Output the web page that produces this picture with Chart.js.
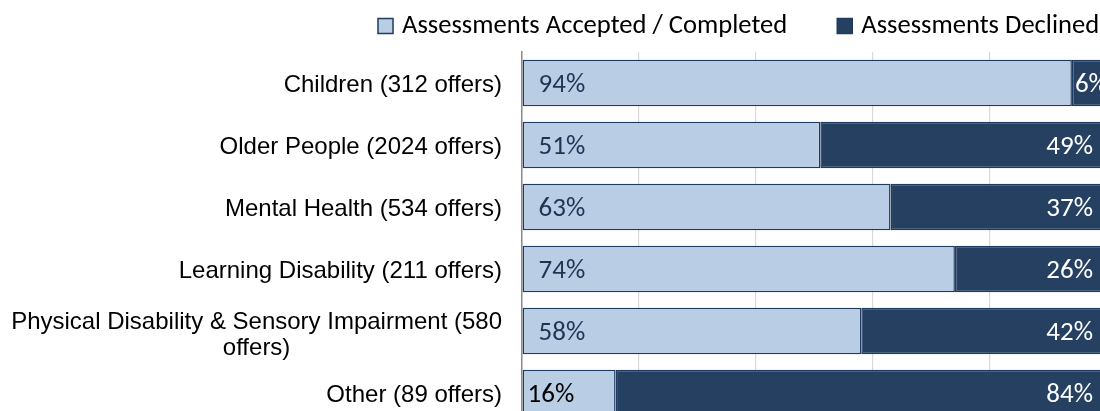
<!DOCTYPE html>
<html>
<head>
<meta charset="utf-8">
<title>Assessments offered by client group</title>
<script src="https://cdn.jsdelivr.net/npm/chart.js@4"></script>
<style>
  html, body { margin: 0; padding: 0; background: #fff; overflow: hidden; }
  #wrap { position: absolute; left: 0; top: 0; width: 1110px; height: 426px; }
</style>
</head>
<body>
<div id="wrap"><canvas id="chart" width="1110" height="426"></canvas></div>
<script>
// categories (client group with number of offers)
const categories = [
  "Children (312 offers)",
  "Older People (2024 offers)",
  "Mental Health (534 offers)",
  "Learning Disability (211 offers)",
  ["Physical Disability & Sensory Impairment (580", "offers)"],
  "Other (89 offers)"
];
const seriesNames = ["Assessments Accepted / Completed", "Assessments Declined"];
const accepted = [94, 51, 63, 74, 58, 16];
const declined = [6, 49, 37, 26, 42, 84];
const xTicks = [0, 20, 40, 60, 80, 100];

const calibri = "Carlito, Calibri, 'Open Sans', sans-serif";
const arial = "'Liberation Sans', Arial, sans-serif";
const edge = "#1F3B60";

// legend drawn by hand so the box/text gaps match Excel
const legendRow = {
  id: "legendRow",
  afterDraw(chart) {
    const ctx = chart.ctx;
    ctx.save();
    ctx.font = "26.6px " + calibri;
    ctx.textBaseline = "middle";
    ctx.textAlign = "left";
    let x = 378;
    const y = 26;
    chart.data.datasets.forEach(ds => {
      ctx.fillStyle = ds.backgroundColor;
      ctx.fillRect(x, y - 7.5, 15, 15);
      ctx.strokeStyle = edge;
      ctx.lineWidth = 1.5;
      ctx.strokeRect(x, y - 7.5, 15, 15);
      ctx.fillStyle = "#000";
      ctx.fillText(ds.label, x + 24, y);
      x += 24 + ctx.measureText(ds.label).width + 50;
    });
    ctx.restore();
  }
};

// y labels: right aligned block, lines centred inside it (like Excel)
const yLabels = {
  id: "yLabels",
  afterDraw(chart) {
    const ctx = chart.ctx;
    const y = chart.scales.y;
    ctx.save();
    ctx.font = "24px " + arial;
    ctx.fillStyle = "#000";
    ctx.textBaseline = "middle";
    ctx.textAlign = "center";
    const right = y.right - 20;
    const lh = 26.5;
    categories.forEach((lab, i) => {
      const lines = Array.isArray(lab) ? lab : [lab];
      const w = Math.max(...lines.map(l => ctx.measureText(l).width));
      const cy = y.getPixelForValue(i) + 2 - (lines.length - 1) * 11;
      lines.forEach((l, k) => ctx.fillText(l, right - w / 2, cy + k * lh));
    });
    ctx.restore();
  }
};

// percentage labels inside the bars
const barLabels = {
  id: "barLabels",
  afterDatasetsDraw(chart) {
    const ctx = chart.ctx;
    ctx.save();
    ctx.font = "27px " + calibri;
    ctx.textBaseline = "middle";
    ctx.textAlign = "left";
    chart.data.datasets.forEach((ds, di) => {
      chart.getDatasetMeta(di).data.forEach((bar, i) => {
        const txt = ds.data[i] + "%";
        const w = ctx.measureText(txt).width;
        const left = Math.min(bar.x, bar.base);
        const right = Math.max(bar.x, bar.base);
        let x;
        if (di === 0) {
          ctx.fillStyle = ds.data[i] < 20 ? "#000" : "#1F3454";
          x = left + (ds.data[i] < 20 ? 5 : 16);
        } else {
          ctx.fillStyle = "#fff";
          x = Math.max(left + 3, right - 14 - w);
        }
        ctx.fillText(txt, x, bar.y + 2);
      });
    });
    ctx.restore();
  }
};

new Chart(document.getElementById("chart"), {
  type: "bar",
  data: {
    labels: categories,
    datasets: [
      {
        label: seriesNames[0],
        data: accepted,
        backgroundColor: "#B9CDE5",
        borderColor: edge,
        borderWidth: 1.5,
        borderSkipped: false
      },
      {
        label: seriesNames[1],
        data: declined,
        backgroundColor: "#254061",
        borderColor: edge,
        borderWidth: 1.5,
        borderSkipped: false
      }
    ]
  },
  options: {
    indexAxis: "y",
    responsive: false,
    animation: false,
    devicePixelRatio: 1,
    layout: { padding: { top: 52, right: 3, bottom: 2, left: 0 } },
    datasets: { bar: { categoryPercentage: 1, barPercentage: 0.75 } },
    scales: {
      x: {
        stacked: true,
        min: xTicks[0],
        max: xTicks[xTicks.length - 1],
        afterBuildTicks: s => { s.ticks = xTicks.map(v => ({ value: v })); },
        ticks: { display: false },
        grid: { color: "#D9D9D9", lineWidth: 1.2, drawTicks: false },
        border: { display: false },
        afterFit: s => { s.height = 0; }
      },
      y: {
        stacked: true,
        ticks: { display: false },
        grid: { display: false, drawTicks: false },
        border: { display: true, color: "#8C8C8C", width: 1.5 },
        afterFit: s => { s.width = 522; }
      }
    },
    plugins: {
      tooltip: { enabled: false },
      legend: { display: false }
    }
  },
  plugins: [legendRow, yLabels, barLabels]
});
</script>
</body>
</html>
